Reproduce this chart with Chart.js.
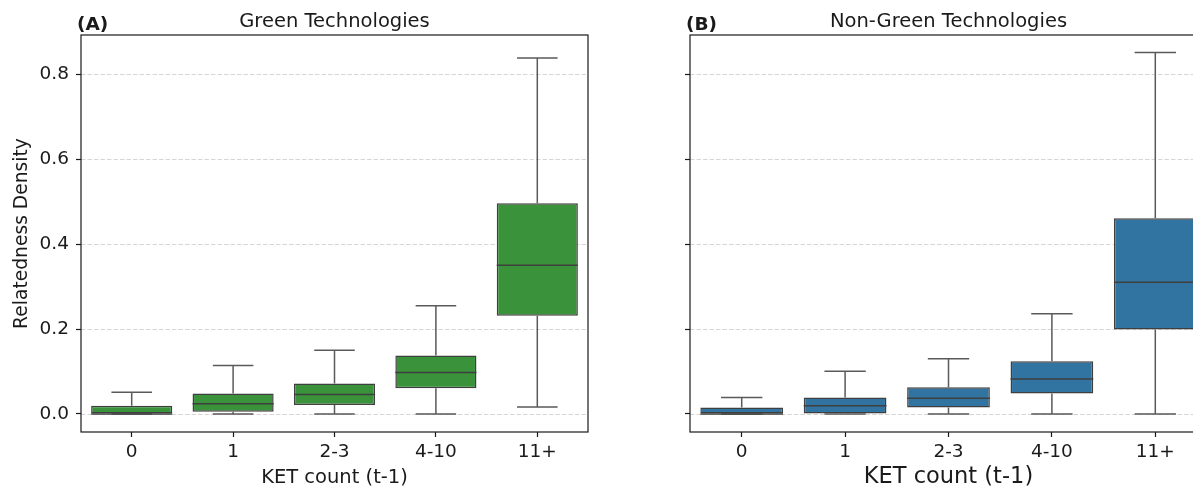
<!DOCTYPE html>
<html>
<head>
<meta charset="utf-8">
<script src="https://cdn.jsdelivr.net/npm/chart.js@4"></script>
<style>
  html, body { margin: 0; padding: 0; background: #fff; }
  #wrap { position: relative; width: 1193px; height: 489px; overflow: hidden; }
  #wrap div { position: absolute; top: 0; }
</style>
</head>
<body>
<div id="wrap">
  <div style="left:0;width:600px;height:489px;"><canvas id="greenChart"></canvas></div>
  <div style="left:600px;width:620px;height:489px;"><canvas id="nonGreenChart"></canvas></div>
</div>
<script>
// Categorías del eje X
const categories = ["0", "1", "2-3", "4-10", "11+"];

// Green Technologies (bigotes, cuartiles, mediana)
const greenLow = [0, 0, 0, 0, 0.0165];
const greenQ1 = [0, 0.005, 0.021, 0.0605, 0.231];
const greenMedian = [0, 0.024, 0.046, 0.0975, 0.35];
const greenQ3 = [0.0196, 0.048, 0.072, 0.1375, 0.496];
const greenHigh = [0.051, 0.114, 0.15, 0.255, 0.8385];

// Non-Green Technologies
const nonGreenLow = [0, 0, 0, 0, 0];
const nonGreenQ1 = [0, 0, 0.015, 0.048, 0.199];
const nonGreenMedian = [0, 0.0196, 0.037, 0.0825, 0.31];
const nonGreenQ3 = [0.015, 0.0385, 0.063, 0.124, 0.461];
const nonGreenHigh = [0.0385, 0.1006, 0.13, 0.236, 0.851];

const yTicks = [0, 0.2, 0.4, 0.6, 0.8];

const FONT = "DejaVu Sans";

// Plugin: rejilla discontinua, bigotes, medianas, marco y títulos
function boxPlugin(low, median, high, title, letter) {
  return {
    id: "boxExtras",
    beforeDatasetsDraw(chart) {
      const { ctx, chartArea, scales } = chart;
      ctx.save();
      ctx.strokeStyle = "rgba(0,0,0,0.16)";
      ctx.lineWidth = 1;
      ctx.setLineDash([4.5, 2]);
      yTicks.forEach((v) => {
        const y = Math.round(scales.y.getPixelForValue(v)) + 0.5;
        ctx.beginPath();
        ctx.moveTo(chartArea.left, y);
        ctx.lineTo(chartArea.right, y);
        ctx.stroke();
      });
      ctx.restore();
    },
    afterDatasetsDraw(chart) {
      const { ctx, scales } = chart;
      const meta = chart.getDatasetMeta(0);
      const q1 = chart.data.datasets[0].data.map((d) => d[0]);
      const q3 = chart.data.datasets[0].data.map((d) => d[1]);
      ctx.save();
      meta.data.forEach((bar, i) => {
        const x = bar.x;
        const half = bar.width / 2;
        const yLow = scales.y.getPixelForValue(low[i]);
        const yHigh = scales.y.getPixelForValue(high[i]);
        const yQ1 = scales.y.getPixelForValue(q1[i]);
        const yQ3 = scales.y.getPixelForValue(q3[i]);
        const yMed = scales.y.getPixelForValue(median[i]);

        ctx.strokeStyle = "#5a5a5a";
        ctx.lineWidth = 1.5;
        ctx.beginPath();
        ctx.moveTo(x, yQ3);
        ctx.lineTo(x, yHigh);
        ctx.moveTo(x - half / 2, yHigh);
        ctx.lineTo(x + half / 2, yHigh);
        ctx.moveTo(x, yQ1);
        ctx.lineTo(x, yLow);
        ctx.moveTo(x - half / 2, yLow);
        ctx.lineTo(x + half / 2, yLow);
        ctx.stroke();

        ctx.strokeStyle = "#3f3f3f";
        ctx.beginPath();
        ctx.moveTo(x - half, yMed);
        ctx.lineTo(x + half, yMed);
        ctx.stroke();
      });
      ctx.restore();
    },
    afterDraw(chart) {
      const { ctx, chartArea } = chart;
      ctx.save();
      ctx.strokeStyle = "#1a1a1a";
      ctx.lineWidth = 1.2;
      ctx.strokeRect(chartArea.left, chartArea.top, chartArea.right - chartArea.left, chartArea.bottom - chartArea.top);

      ctx.fillStyle = "#1a1a1a";
      ctx.textBaseline = "alphabetic";
      ctx.textAlign = "center";
      ctx.font = "19.5px '" + FONT + "'";
      ctx.fillText(title, (chartArea.left + chartArea.right) / 2, chartArea.top - 8.5);
      ctx.textAlign = "left";
      ctx.font = "bold 18.5px '" + FONT + "'";
      ctx.fillText(letter, chartArea.left - 4, chartArea.top - 5);
      ctx.restore();
    },
  };
}

function crearGrafico(canvasId, opts) {
  const ctx = document.getElementById(canvasId);
  const boxes = opts.q1.map((v, i) => [v, opts.q3[i]]);

  return new Chart(ctx, {
    type: "bar",
    data: {
      labels: categories,
      datasets: [
        {
          data: boxes,
          backgroundColor: opts.color,
          borderColor: "#3f3f3f",
          borderWidth: 1.5,
          borderSkipped: false,
          barPercentage: 0.8,
          categoryPercentage: 1.0,
        },
      ],
    },
    options: {
      responsive: true,
      maintainAspectRatio: false,
      animation: false,
      layout: { padding: { left: 0, right: opts.padRight, top: 35, bottom: 0 } },
      plugins: { legend: { display: false }, tooltip: { enabled: false }, title: { display: false } },
      scales: {
        x: {
          offset: true,
          border: { display: false },
          grid: { offset: false, drawOnChartArea: false, drawTicks: true, tickLength: 5, tickColor: "#1a1a1a", tickWidth: 1.2 },
          ticks: { color: "#1a1a1a", padding: 4, font: { family: FONT, size: 18.5 } },
          title: {
            display: true,
            text: "KET count (t-1)",
            color: "#1a1a1a",
            font: { family: FONT, size: opts.xTitleSize, lineHeight: 1 },
            padding: { top: 0, bottom: opts.xTitlePad },
          },
          afterFit(scale) {
            scale.height = 57;
          },
        },
        y: {
          min: -0.0425,
          max: 0.8925,
          border: { display: false },
          grid: { drawOnChartArea: false, drawTicks: true, tickLength: 5, tickColor: "#1a1a1a", tickWidth: 1.2 },
          ticks: {
            stepSize: 0.2,
            includeBounds: false,
            padding: 7,
            color: opts.showYLabels ? "#1a1a1a" : "rgba(0,0,0,0)",
            font: { family: FONT, size: 18.5 },
            callback: (v) => Number(v).toFixed(1),
          },
          title: {
            display: opts.showYLabels,
            text: "Relatedness Density",
            color: "#1a1a1a",
            font: { family: FONT, size: 18.7, lineHeight: 1 },
            padding: { top: 13, bottom: 0 },
          },
          afterFit(scale) {
            scale.width = opts.yWidth;
          },
        },
      },
    },
    plugins: [boxPlugin(opts.low, opts.median, opts.high, opts.title, opts.letter)],
  });
}

crearGrafico("greenChart", {
  q1: greenQ1,
  q3: greenQ3,
  low: greenLow,
  median: greenMedian,
  high: greenHigh,
  color: "#3a923a",
  title: "Green Technologies",
  letter: "(A)",
  showYLabels: true,
  yWidth: 81,
  padRight: 12,
  xTitleSize: 19.5,
  xTitlePad: 1.25,
});

crearGrafico("nonGreenChart", {
  q1: nonGreenQ1,
  q3: nonGreenQ3,
  low: nonGreenLow,
  median: nonGreenMedian,
  high: nonGreenHigh,
  color: "#3274a1",
  title: "Non-Green Technologies",
  letter: "(B)",
  showYLabels: false,
  yWidth: 90,
  padRight: 13,
  xTitleSize: 22.5,
  xTitlePad: 0.75,
});
</script>
</body>
</html>
